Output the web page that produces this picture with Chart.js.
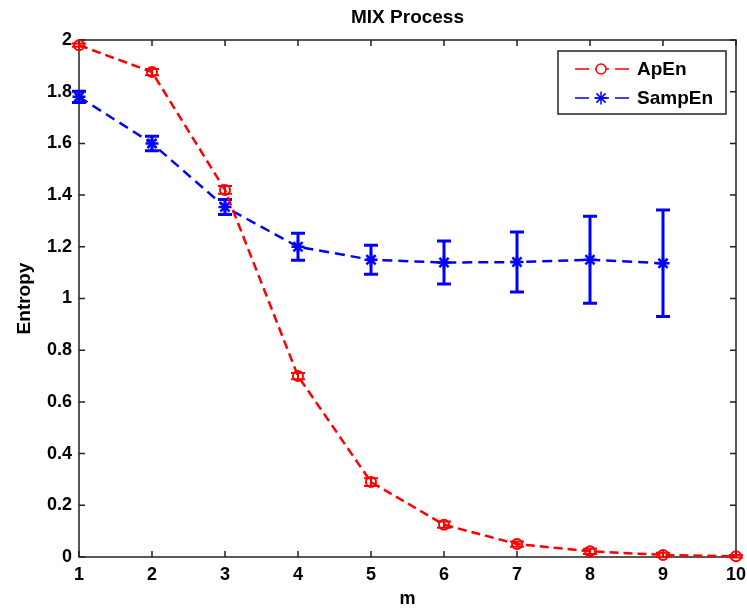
<!DOCTYPE html>
<html>
<head>
<meta charset="utf-8">
<script src="https://cdn.jsdelivr.net/npm/chart.js@4.4.1/dist/chart.umd.min.js"></script>
<style>
  html, body { margin: 0; padding: 0; background: #fff; }
</style>
</head>
<body>
<canvas id="myChart" width="747" height="610"></canvas>
<script>
// embedding dimension m
var mValues = [1, 2, 3, 4, 5, 6, 7, 8, 9, 10];

// approximate entropy (mean and half-width of error bar)
var apEn    = [1.98, 1.876, 1.42, 0.70, 0.29, 0.125, 0.05, 0.022, 0.008, 0.003];
var apEnErr = [0.006, 0.012, 0.015, 0.012, 0.015, 0.012, 0.01, 0.01, 0.008, 0.005];

// sample entropy (undefined for m = 10)
var sampEn    = [1.78, 1.60, 1.354, 1.20, 1.15, 1.139, 1.141, 1.15, 1.136];
var sampEnErr = [0.022, 0.028, 0.029, 0.052, 0.056, 0.083, 0.116, 0.168, 0.206];

var yMin = 0, yMax = 2, yStep = 0.2;
var xMin = 1, xMax = 10, xStep = 1;
var chartTitle = "MIX Process";

var FONT = "'Liberation Sans', Arial, sans-serif";

function toPoints(xs, ys) {
  return ys.map(function (v, i) {
    return { x: xs[i], y: v };
  });
}

Chart.defaults.font.family = FONT;
Chart.defaults.color = "#000";

// box round the plot area with inward tick marks on all four sides,
// title centred over the plot area
var axesBox = {
  id: "axesBox",
  beforeDatasetsDraw: function (chart) {
    var ctx = chart.ctx, a = chart.chartArea;
    var x = chart.scales.x, y = chart.scales.y;
    ctx.save();
    ctx.strokeStyle = "#222";
    ctx.lineWidth = 1.5;
    ctx.strokeRect(a.left, a.top, a.right - a.left, a.bottom - a.top);
    ctx.beginPath();
    x.ticks.forEach(function (t) {
      var px = x.getPixelForValue(t.value);
      ctx.moveTo(px, a.bottom); ctx.lineTo(px, a.bottom - 6);
      ctx.moveTo(px, a.top); ctx.lineTo(px, a.top + 6);
    });
    y.ticks.forEach(function (t) {
      var py = y.getPixelForValue(t.value);
      ctx.moveTo(a.left, py); ctx.lineTo(a.left + 6, py);
      ctx.moveTo(a.right, py); ctx.lineTo(a.right - 6, py);
    });
    ctx.stroke();

    ctx.fillStyle = "#000";
    ctx.font = "bold 19px " + FONT;
    ctx.textAlign = "center";
    ctx.textBaseline = "middle";
    ctx.fillText(chartTitle, (a.left + a.right) / 2, a.top - 22);
    ctx.restore();
  }
};

// vertical error bars with caps, read from dataset.errors
var errorBars = {
  id: "errorBars",
  beforeDatasetsDraw: function (chart) {
    var ctx = chart.ctx;
    var x = chart.scales.x, y = chart.scales.y;
    ctx.save();
    chart.data.datasets.forEach(function (ds) {
      if (!ds.errors) return;
      ctx.strokeStyle = ds.borderColor;
      ctx.lineWidth = ds.errorWidth || 2;
      ctx.setLineDash([]);
      ctx.beginPath();
      ds.data.forEach(function (p, i) {
        var px = x.getPixelForValue(p.x);
        var top = y.getPixelForValue(p.y + ds.errors[i]);
        var bot = y.getPixelForValue(p.y - ds.errors[i]);
        ctx.moveTo(px, top); ctx.lineTo(px, bot);
        ctx.moveTo(px - 7, top); ctx.lineTo(px + 7, top);
        ctx.moveTo(px - 7, bot); ctx.lineTo(px + 7, bot);
      });
      ctx.stroke();
    });
    ctx.restore();
  }
};

// boxed legend in the upper right corner, line sample with marker
var boxLegend = {
  id: "boxLegend",
  afterDraw: function (chart) {
    var ctx = chart.ctx, a = chart.chartArea;
    var w = 168, h = 63;
    var left = a.right - 10 - w, top = a.top + 11;
    ctx.save();
    ctx.fillStyle = "#fff";
    ctx.fillRect(left, top, w, h);
    ctx.strokeStyle = "#222";
    ctx.lineWidth = 1.5;
    ctx.strokeRect(left, top, w, h);
    chart.data.datasets.forEach(function (ds, i) {
      var cy = top + 18 + i * 29;
      ctx.strokeStyle = ds.borderColor;
      ctx.lineWidth = 1.5;
      ctx.setLineDash([14, 6]);
      ctx.beginPath();
      ctx.moveTo(left + 17, cy);
      ctx.lineTo(left + 74, cy);
      ctx.stroke();
      ctx.setLineDash([]);
      Chart.helpers.drawPoint(ctx, {
        pointStyle: ds.pointStyle,
        radius: ds.pointRadius,
        borderWidth: ds.pointBorderWidth,
        rotation: 0
      }, left + 43, cy);
      ctx.fillStyle = "#000";
      ctx.font = "bold 19px " + FONT;
      ctx.textBaseline = "middle";
      ctx.fillText(ds.label, left + 79, cy + 1);
    });
    ctx.restore();
  }
};

const ctx = document.getElementById("myChart");
window.chart = new Chart(ctx, {
  type: "line",
  data: {
    datasets: [
      {
        label: "ApEn",
        data: toPoints(mValues, apEn),
        errors: apEnErr,
        errorWidth: 2,
        borderColor: "#ff0000",
        backgroundColor: "rgba(0,0,0,0)",
        borderWidth: 2.5,
        borderDash: [9, 5],
        pointStyle: "circle",
        pointRadius: 5,
        pointBorderWidth: 2,
        pointBackgroundColor: "rgba(0,0,0,0)",
        tension: 0,
        clip: false
      },
      {
        label: "SampEn",
        data: toPoints(mValues, sampEn),
        errors: sampEnErr,
        errorWidth: 3,
        borderColor: "#0000ff",
        backgroundColor: "rgba(0,0,0,0)",
        borderWidth: 2.5,
        borderDash: [10, 6],
        pointStyle: "star",
        pointRadius: 6.5,
        pointBorderWidth: 2.5,
        tension: 0,
        clip: false
      }
    ]
  },
  options: {
    responsive: false,
    animation: false,
    layout: { padding: { left: 0, right: 11, top: 40, bottom: 0 } },
    plugins: {
      legend: { display: false },
      tooltip: { enabled: false },
      title: { display: false }
    },
    scales: {
      x: {
        type: "linear",
        position: "bottom",
        min: xMin,
        max: xMax,
        grid: { display: false, drawTicks: false },
        border: { display: false },
        ticks: {
          stepSize: xStep,
          padding: 7,
          font: { size: 18, weight: "bold" },
          maxRotation: 0
        },
        title: {
          display: true,
          text: "m",
          font: { size: 18, weight: "bold" },
          padding: { top: 0, bottom: 0 }
        },
        afterFit: function (scale) {
          scale.height = 53;
          scale.paddingLeft = 0;
          scale.paddingRight = 0;
        }
      },
      y: {
        min: yMin,
        max: yMax,
        grid: { display: false, drawTicks: false },
        border: { display: false },
        ticks: {
          stepSize: yStep,
          padding: 7,
          font: { size: 18, weight: "bold" },
          callback: function (v) { return String(+v.toFixed(1)); }
        },
        title: {
          display: true,
          text: "Entropy",
          font: { size: 19, weight: "bold" },
          padding: { top: 13, bottom: 0 }
        },
        afterFit: function (scale) {
          scale.width = 79;
          scale.paddingTop = 0;
          scale.paddingBottom = 0;
        }
      }
    }
  },
  plugins: [axesBox, errorBars, boxLegend]
});
</script>
</body>
</html>
